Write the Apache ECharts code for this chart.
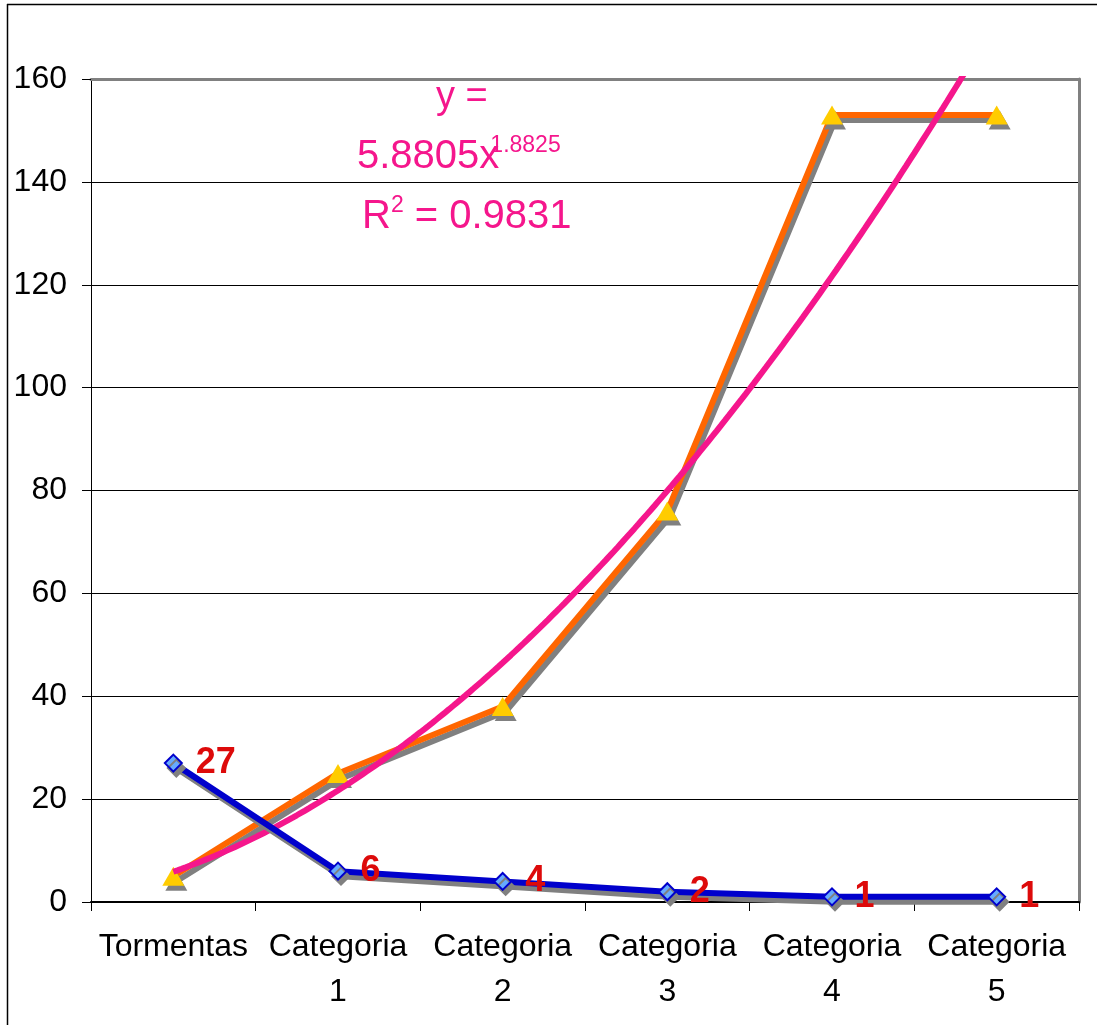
<!DOCTYPE html>
<html>
<head>
<meta charset="utf-8">
<title>Tormentas y categorías</title>
<script src="https://cdn.jsdelivr.net/npm/echarts@6/dist/echarts.min.js"></script>
<style>
  html, body { margin: 0; padding: 0; background: #fff; }
  #chart { width: 1097px; height: 1025px; }
</style>
</head>
<body>
<div id="chart"></div>
<script>
// Categories along the x axis
const categories = ['Tormentas', 'Categoria\n1', 'Categoria\n2', 'Categoria\n3', 'Categoria\n4', 'Categoria\n5'];
// Count per category (labelled series)
const counts = [27, 6, 4, 2, 1, 1];
// Second series (triangles)
const totals = [5, 25, 38, 76, 153, 153];
// Power trend line fitted to the second series: y = a * x^b
const trendA = 5.8805;
const trendB = 1.8825;
const trendR2 = 0.9831;
// Y axis ticks
const yMin = 0, yMax = 160, yStep = 20;

const FONT = '"Liberation Sans", Arial, sans-serif';
const PINK = '#F5168C';
const SHADOW = { shadowColor: '#808080', shadowBlur: 0, shadowOffsetX: 3, shadowOffsetY: 5 };

// Sample the trend curve over the category positions (x = 1 .. n)
const trendPoints = [];
for (let i = 0; i <= 200; i++) {
  const x = 1 + (categories.length - 1) * i / 200;
  trendPoints.push([x, trendA * Math.pow(x, trendB)]);
}

const chart = echarts.init(document.getElementById('chart'), null, { renderer: 'canvas' });

chart.setOption({
  animation: false,
  backgroundColor: '#fff',
  textStyle: { fontFamily: FONT },
  grid: { left: 91, right: 18, top: 79, bottom: 123, containLabel: false },
  xAxis: [
    {
      type: 'category',
      data: categories,
      boundaryGap: true,
      axisLine: { lineStyle: { color: '#000', width: 2 } },
      axisTick: { show: true, length: 9, lineStyle: { color: '#000', width: 1 } },
      axisLabel: {
        interval: 0, color: '#000', fontSize: 32, lineHeight: 45,
        margin: 23, fontFamily: FONT
      },
      splitLine: { show: false }
    },
    {
      // positional axis used for the fitted curve; also draws the top border
      type: 'value',
      position: 'top',
      min: 0.5,
      max: categories.length + 0.5,
      axisLine: { show: true, onZero: false, lineStyle: { color: '#808080', width: 3 } },
      axisTick: { show: false },
      axisLabel: { show: false },
      splitLine: { show: false }
    }
  ],
  yAxis: [
    {
      type: 'value',
      min: yMin, max: yMax, interval: yStep,
      axisLine: { show: true, lineStyle: { color: '#000', width: 1 } },
      axisTick: { show: true, length: 9, lineStyle: { color: '#000' } },
      axisLabel: { color: '#000', fontSize: 32, margin: 24, fontFamily: FONT },
      splitLine: { show: true, lineStyle: { color: '#000', width: 1 } }
    },
    {
      type: 'value',
      position: 'right',
      min: yMin, max: yMax, interval: yStep,
      axisLine: { show: true, lineStyle: { color: '#808080', width: 3 } },
      axisTick: { show: false },
      axisLabel: { show: false },
      splitLine: { show: false }
    }
  ],
  series: [
    {
      name: 'Tormentas',
      type: 'line',
      data: counts,
      xAxisIndex: 0, yAxisIndex: 0,
      symbol: 'diamond',
      symbolSize: 17,
      lineStyle: Object.assign({ color: '#0000CC', width: 6 }, SHADOW),
      itemStyle: Object.assign({ color: '#66AAFF', borderColor: '#0000CC', borderWidth: 2 }, SHADOW),
      label: {
        show: true, position: 'right', distance: 13,
        color: '#DD0A0A', fontSize: 36, fontWeight: 'bold', fontFamily: FONT
      },
      z: 5
    },
    {
      name: 'Total',
      type: 'line',
      data: totals,
      xAxisIndex: 0, yAxisIndex: 0,
      symbol: 'triangle',
      symbolSize: [22, 19],
      lineStyle: Object.assign({ color: '#FF6600', width: 6 }, SHADOW),
      itemStyle: Object.assign({ color: '#FFCC00', borderWidth: 0 }, SHADOW),
      z: 3
    },
    {
      name: 'Potencial',
      type: 'line',
      data: trendPoints,
      xAxisIndex: 1, yAxisIndex: 0,
      showSymbol: false,
      symbol: 'none',
      clip: true,
      smooth: false,
      lineStyle: { color: PINK, width: 6 },
      z: 4
    }
  ],
  graphic: [
    // outer frame (top and left edges)
    { type: 'line', shape: { x1: 7, y1: 4.5, x2: 1097, y2: 4.5 }, style: { stroke: '#000', lineWidth: 1.5 } },
    { type: 'line', shape: { x1: 7.5, y1: 4, x2: 7.5, y2: 1025 }, style: { stroke: '#000', lineWidth: 1.5 } },
    // trend equation
    {
      type: 'text', left: 436, top: 79, z: 10,
      style: { text: 'y =', fill: PINK, font: '38px ' + FONT }
    },
    {
      type: 'text', left: 357, top: 134, z: 10,
      style: {
        text: '{b|5.8805x}{s|' + trendB + '}',
        rich: {
          b: { fill: PINK, fontSize: 40, fontFamily: FONT, verticalAlign: 'bottom' },
          s: { fill: PINK, fontSize: 23, fontFamily: FONT, verticalAlign: 'top', padding: [0, 0, 20, -9] }
        }
      }
    },
    {
      type: 'text', left: 362, top: 194, z: 10,
      style: {
        text: '{b|R}{s|2}{b| = ' + trendR2 + '}',
        rich: {
          b: { fill: PINK, fontSize: 40, fontFamily: FONT },
          s: { fill: PINK, fontSize: 23, fontFamily: FONT, padding: [0, 0, 22, 0] }
        }
      }
    }
  ]
});
</script>
</body>
</html>
